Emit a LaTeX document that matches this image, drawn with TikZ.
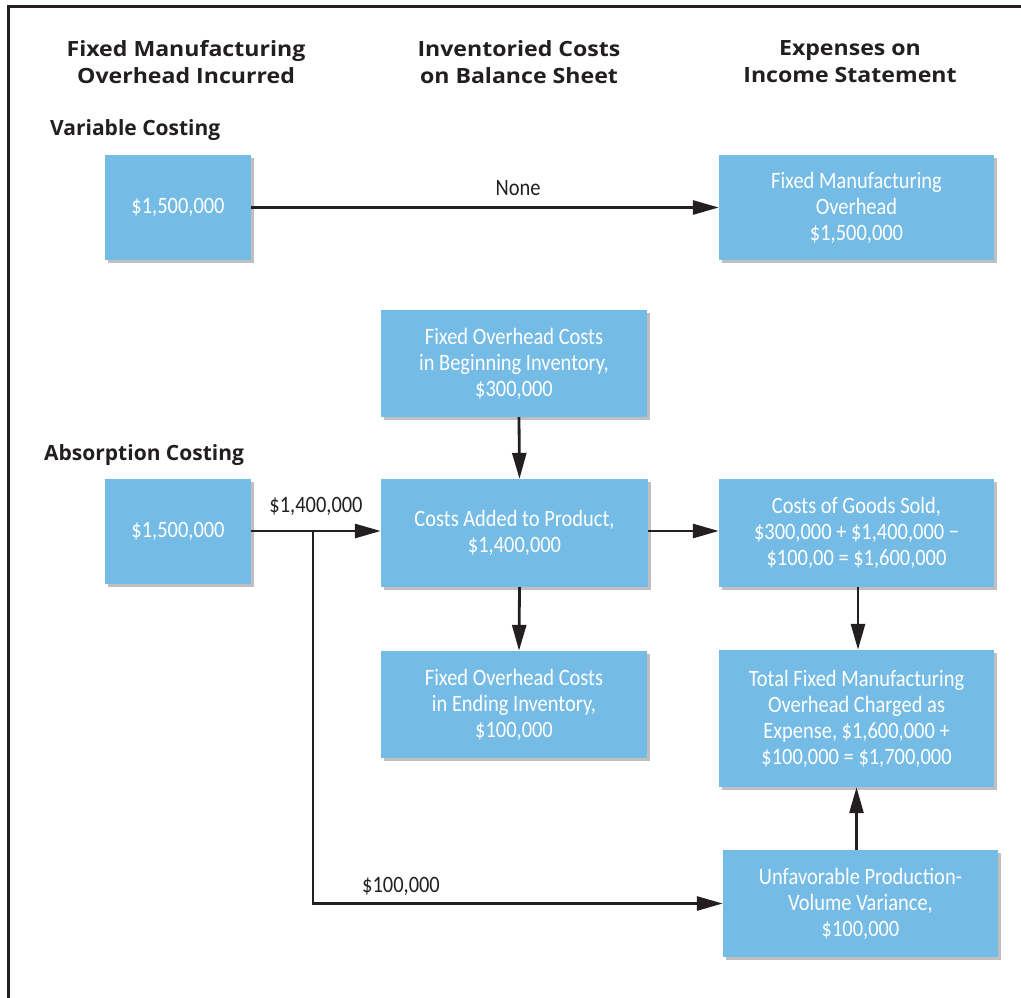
\documentclass[tikz,border=0pt]{standalone}
\usepackage{fontspec}
\setmainfont{Open Sans}
\newfontfamily\headfont[FakeStretch=1.1]{Open Sans}
\newfontfamily\boxfont[FakeStretch=0.87]{Carlito}
\usetikzlibrary{arrows.meta,shadows}

\definecolor{boxblue}{RGB}{116,187,230}
\definecolor{ink}{RGB}{35,31,32}

\begin{document}
\begin{tikzpicture}[x=1pt,y=-1pt,
  blk/.style={fill=boxblue, draw=none, text=white, align=center,
    font=\boxfont\fontsize{23.5}{26}\selectfont, inner sep=0pt,
    drop shadow={shadow xshift=3pt, shadow yshift=-3pt, fill=black, opacity=0.25}},
  head/.style={font=\headfont\bfseries\fontsize{21}{27}\selectfont, text=ink, align=center, inner sep=0pt},
  side/.style={font=\bfseries\fontsize{21}{27}\selectfont, text=ink, anchor=west, inner sep=0pt},
  lbl/.style={font=\boxfont\fontsize{23.5}{26}\selectfont, text=ink, inner sep=0pt},
  flow/.style={draw=ink, line width=2.8pt, -{Triangle[length=26pt,width=14pt]}},
  wire/.style={draw=ink, line width=2.8pt}
]
\useasboundingbox (0,0) rectangle (1021,998);

% open frame: left and top edges
\draw[ink, line width=3pt] (8,998) -- (8,7) -- (1021,7);

% column headings
\node[head] (h1) at (186,62) {Fixed Manufacturing\\Overhead Incurred};
\node[head] (h2) at (519,62) {Inventoried Costs\\on Balance Sheet};
\node[head] (h3) at (850,62) {Expenses on\\Income Statement};

% row headings
\node[side] (rv) at (50,130) {Variable Costing};
\node[side] (ra) at (44,455) {Absorption Costing};

% variable costing row
\node[blk, minimum width=146pt, minimum height=105pt] (v1) at (178,207.5) {\$1,500,000};
\node[blk, minimum width=275pt, minimum height=105pt] (v2) at (856.5,207.5)
  {Fixed Manufacturing\\Overhead\\\$1,500,000};

% absorption costing boxes
\node[blk, minimum width=266pt, minimum height=107pt] (beg) at (514,363.5)
  {Fixed Overhead Costs\\in Beginning Inventory,\\\$300,000};
\node[blk, minimum width=146pt, minimum height=105pt] (a1) at (178,531) {\$1,500,000};
\node[blk, minimum width=267pt, minimum height=108pt] (add) at (514.5,533)
  {Costs Added to Product,\\\$1,400,000};
\node[blk, minimum width=275pt, minimum height=108pt] (cogs) at (856.5,533)
  {Costs of Goods Sold,\\\$300,000 + \$1,400,000 −\\\$100,00 = \$1,600,000};
\node[blk, minimum width=266pt, minimum height=107pt] (end) at (514,704.5)
  {Fixed Overhead Costs\\in Ending Inventory,\\\$100,000};
\node[blk, minimum width=275pt, minimum height=137pt] (tot) at (856.5,718.5)
  {Total Fixed Manufacturing\\Overhead Charged as\\Expense, \$1,600,000 +\\\$100,000 = \$1,700,000};
\node[blk, minimum width=275pt, minimum height=107pt] (unf) at (860.5,903.5)
  {Unfavorable Production-\\Volume Variance,\\\$100,000};

% connectors
\draw[flow] (v1.east) -- (v2.west);
\node[lbl] (none) at (518,188) {None};

\draw[flow] (a1.east) -- (a1.east -| add.west);
\node[lbl] (l14) at (316,506) {\$1,400,000};
\coordinate (split) at (313,531);
\draw[flow] (split) |- (unf.west);
\node[lbl] (l01) at (401,886) {\$100,000};

\draw[flow] ([xshift=5pt]beg.south) -- ([xshift=5pt]add.north);
\draw[flow] (add.east |- a1.east) -- (a1.east -| cogs.west);
\draw[flow] ([xshift=5pt]add.south) -- ([xshift=5pt]end.north);
\draw[flow] ([xshift=1.5pt]cogs.south) -- ([xshift=1.5pt]tot.north);
\draw[flow] (unf.north -| tot.south) -- (tot.south);
\end{tikzpicture}
\end{document}
